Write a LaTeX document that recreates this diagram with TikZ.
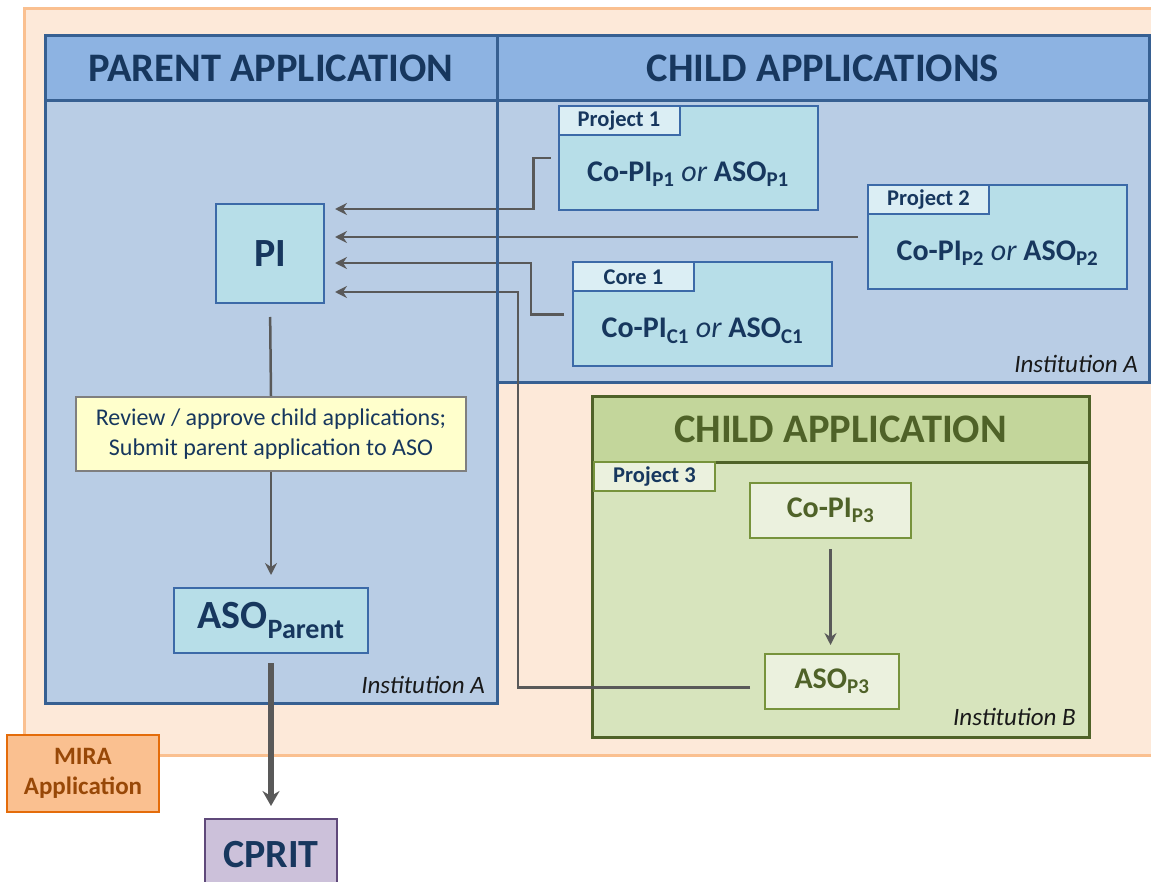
\documentclass[tikz,border=0pt]{standalone}
\usepackage{fontspec}
\setmainfont{Carlito}
\usetikzlibrary{arrows.meta,positioning}

\definecolor{bgfill}{HTML}{FDE9D9}
\definecolor{bgline}{HTML}{FAC090}
\definecolor{hdfill}{HTML}{8DB3E2}
\definecolor{bodyfill}{HTML}{B9CDE5}
\definecolor{panelline}{HTML}{376092}
\definecolor{navy}{HTML}{17375E}
\definecolor{rolefill}{HTML}{B7DEE8}
\definecolor{roleline}{HTML}{3C6AA8}
\definecolor{tabfill}{HTML}{DBEEF4}
\definecolor{notefill}{HTML}{FFFFCC}
\definecolor{noteline}{HTML}{7F7F7F}
\definecolor{connc}{HTML}{595959}
\definecolor{grhd}{HTML}{C3D69B}
\definecolor{grbody}{HTML}{D7E4BD}
\definecolor{grline}{HTML}{4F6228}
\definecolor{grbox}{HTML}{EBF1DE}
\definecolor{grboxline}{HTML}{77933C}
\definecolor{mirafill}{HTML}{FAC090}
\definecolor{miraline}{HTML}{E46C0A}
\definecolor{miratext}{HTML}{984807}
\definecolor{cpfill}{HTML}{CCC1DA}
\definecolor{cpline}{HTML}{5F497A}

\begin{document}
\begin{tikzpicture}[x=1pt,y=-1pt,
    panel/.style={draw=panelline, fill=bodyfill, line width=3pt, inner sep=0pt, outer sep=0pt},
    panelhead/.style={panel, fill=hdfill, text=navy, font=\fontsize{40.5}{48}\selectfont\bfseries},
    gpanel/.style={draw=grline, fill=grbody, line width=3pt, inner sep=0pt, outer sep=0pt},
    gpanelhead/.style={gpanel, fill=grhd, text=grline, font=\fontsize{40.5}{48}\selectfont\bfseries},
    boxbase/.style={draw=roleline, fill=rolefill, line width=2pt, inner sep=0pt, outer sep=0pt, text=navy},
    rolebox/.style={boxbase, minimum width=259pt, minimum height=104pt},
    roletxt/.style={text=navy, inner sep=0pt, font=\fontsize{30}{36}\selectfont\bfseries},
    tab/.style={boxbase, fill=tabfill, minimum width=121pt, minimum height=29pt, font=\fontsize{22.5}{26}\selectfont\bfseries},
    gtab/.style={tab, draw=grboxline, fill=grbox},
    gbox/.style={draw=grboxline, fill=grbox, line width=2pt, inner sep=0pt, outer sep=0pt, text=grline, font=\fontsize{30}{36}\selectfont\bfseries},
    note/.style={draw=noteline, fill=notefill, line width=2pt, text=navy, align=center, minimum width=390pt, minimum height=74pt, inner sep=0pt, font=\fontsize{24}{30}\selectfont},
    inst/.style={inner sep=0pt, text=black!90, font=\fontsize{25}{28}\selectfont\itshape},
    mira/.style={draw=miraline, fill=mirafill, line width=2.5pt, text=miratext, align=center, minimum width=152pt, minimum height=77pt, inner sep=0pt, font=\fontsize{25}{30}\selectfont\bfseries},
    cprit/.style={draw=cpline, fill=cpfill, line width=2pt, text=navy, minimum width=132pt, minimum height=71pt, inner sep=0pt, font=\fontsize{40}{48}\selectfont\bfseries},
    link/.style={draw=connc, line width=2.5pt},
    arrow/.style={link, -{Stealth[length=12pt,width=12pt,inset=4pt]}},
    bigarrow/.style={draw=connc, line width=6pt, -{Stealth[length=15pt,width=17pt,inset=5pt]}}]

  \useasboundingbox (0,0) rectangle (1151,882);

  % background of the whole application
  \draw[draw=bgline, fill=bgfill, line width=3pt] (24,9) rectangle (1170,755);

  % parent application
  \node[panel, minimum width=452pt, minimum height=667pt] (parent) at (271,369.5) {};
  \node[panelhead, minimum width=452pt, minimum height=65pt, anchor=north] (parent-hd) at (parent.north) {PARENT APPLICATION};

  % child applications
  \node[panel, minimum width=652pt, minimum height=347pt] (child) at (823,209.5) {};
  \node[panelhead, minimum width=652pt, minimum height=65pt, anchor=north] (child-hd) at (child.north) {CHILD APPLICATIONS};

  \node[inst, anchor=base east] (inst-a1) at (485,693) {Institution A};
  \node[inst, anchor=base east] (inst-a2) at (1138,373) {Institution A};

  \foreach \nm/\cx/\cy/\tb/\sb in {p1/688/158/Project 1/P1, p2/997.5/237/Project 2/P2, c1/702.5/314.5/Core 1/C1}
  {
    \node[rolebox] (\nm) at (\cx,\cy) {};
    \node[tab, anchor=north west] (\nm-tab) at (\nm.north west) {\tb};
    \node[roletxt, anchor=base] (\nm-txt) at (\cx,\cy+23.5) {Co-PI\textsubscript{\sb} {\mdseries\itshape or} ASO\textsubscript{\sb}};
  }

  % parent column
  \node[boxbase, minimum width=108pt, minimum height=99pt, font=\fontsize{40}{48}\selectfont\bfseries] (pi) at (270,253.5) {PI};
  \node[note] (review) at (271,434) {Review / approve child applications;\\Submit parent application to ASO};
  \node[boxbase, minimum width=194pt, minimum height=65pt, font=\fontsize{40}{48}\selectfont\bfseries] (aso) at (271,620.5) {ASO\textsubscript{Parent}};

  % child application at institution B
  \node[gpanel, minimum width=497pt, minimum height=341pt] (green) at (840.5,566.5) {};
  \node[gpanelhead, minimum width=497pt, minimum height=66pt, anchor=north] (green-hd) at (green.north) {CHILD APPLICATION};
  \node[gtab, anchor=north west] (p3-tab) at ([xshift=2pt]green-hd.south west) {Project 3};
  \node[gbox, minimum width=161pt, minimum height=55pt] (copi3) at (830.5,510.5) {Co-PI\textsubscript{P3}};
  \node[gbox, minimum width=134pt, minimum height=55pt] (aso3) at (832,681.5) {ASO\textsubscript{P3}};
  \node[inst, anchor=base east] (inst-b) at (1076,725) {Institution B};

  \node[mira] (mira) at (83,773.5) {MIRA\\Application};
  \node[cprit] (cprit) at (271,854.5) {CPRIT};

  % connectors
  \draw[link, shorten <=14pt] (pi.south) -- (review.north);
  \draw[arrow, shorten >=13pt] (review.south) -- (aso.north);
  \draw[bigarrow, shorten <=10pt, shorten >=12pt] (aso.south) -- (cprit.north);
  \draw[arrow, shorten <=11pt, shorten >=9pt] (copi3.south) -- (copi3.south |- aso3.north);
  \draw[arrow, shorten <=8pt, shorten >=11pt] (p1.west) -- ++(-25,0) |- (pi.east |- 0,209);
  \draw[arrow, shorten <=10pt, shorten >=11pt] (p2.west) -- (pi.east |- p2.west);
  \draw[arrow, shorten <=9pt, shorten >=11pt] (c1.west) -- ++(-42,0) |- (pi.east |- 0,263);
  \draw[arrow, shorten <=15pt, shorten >=11pt] ([yshift=-6pt]aso3.west) -- ++(-247,0) |- (pi.east |- 0,292);

  % panel divider lies over the connectors
  \draw[draw=panelline, line width=3pt] (child-hd.south west) -- (child.south west);
\end{tikzpicture}
\end{document}
